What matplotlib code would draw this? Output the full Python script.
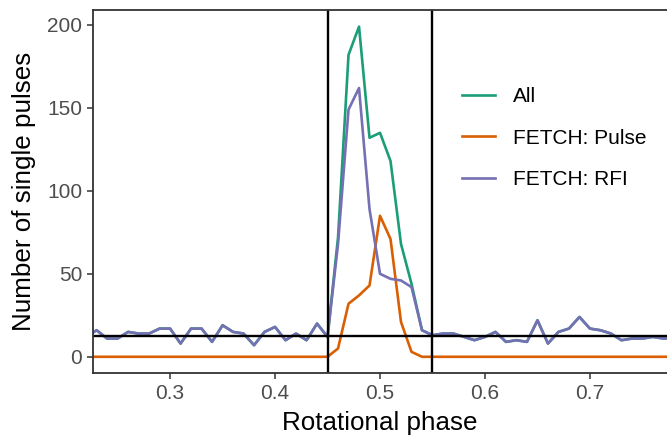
import matplotlib
matplotlib.use("Agg")
from matplotlib import pyplot as plt

# rotational phase bins
phase = [round(0.22 + 0.01 * i, 2) for i in range(57)]

rfi = [12, 16, 11, 11, 15, 14, 14, 17, 17, 8, 17, 17, 9, 19, 15, 14, 7, 15, 18, 10, 14, 10, 20, 12,
       68, 149, 162, 89, 50, 47, 46, 42, 16,
       13, 14, 14, 12, 10, 12, 15, 9, 10, 9, 22, 8, 15, 17, 24, 17, 16, 14, 10, 11, 11, 12, 11, 11]

pulse = [0] * 24 + [5, 32, 37, 43, 85, 71, 21, 3, 0] + [0] * 24

all_sp = [12, 16, 11, 11, 15, 14, 14, 17, 17, 8, 17, 17, 9, 19, 15, 14, 7, 15, 18, 10, 14, 10, 20, 12,
          72, 182, 199, 132, 135, 118, 68, 44, 16,
          13, 14, 14, 12, 10, 12, 15, 9, 10, 9, 22, 8, 15, 17, 24, 17, 16, 14, 10, 11, 11, 12, 11, 11]

win_lo, win_hi = 0.45, 0.55
threshold = 12.5

plt.rcParams['font.family'] = ['Liberation Sans', 'DejaVu Sans']

fig = plt.figure(figsize=(6.67, 4.36), dpi=100)
ax = fig.add_axes([0.139, 0.1438, 0.861, 0.833])

ax.plot(phase, all_sp, color='#1B9E77', lw=1.9, label='All')
ax.plot(phase, pulse, color='#D95F02', lw=1.9, label='FETCH: Pulse')
ax.plot(phase, rfi, color='#7570B3', lw=1.9, label='FETCH: RFI')

ax.axvline(win_lo, color='black', lw=1.7)
ax.axvline(win_hi, color='black', lw=1.7)
ax.axhline(threshold, color='black', lw=1.7)

ax.set_xlim(0.2263, 0.7734)
ax.set_ylim(-9.95, 208.95)
ax.set_xticks([0.3, 0.4, 0.5, 0.6, 0.7])
ax.set_xticklabels(['0.3', '0.4', '0.5', '0.6', '0.7'])
ax.set_yticks([0, 50, 100, 150, 200])

for s in ['left', 'bottom', 'top']:
    ax.spines[s].set_color('#333333')
    ax.spines[s].set_linewidth(1.3)
ax.spines['right'].set_visible(False)

ax.tick_params(axis='both', colors='#333333', width=1.1, length=4.5,
               labelsize=15, labelcolor='#4D4D4D', pad=3)

ax.set_xlabel('Rotational phase', fontsize=18.7, labelpad=6)
ax.set_ylabel('Number of single pulses', fontsize=18.7, labelpad=8)

leg = ax.legend(loc='center left', bbox_to_anchor=(0.6927, 0.683),
                bbox_transform=fig.transFigure, frameon=False, fontsize=15,
                handlelength=1.57, handletextpad=0.86, labelspacing=1.07,
                borderpad=0, borderaxespad=0)

fig.savefig('out.png', dpi=100)
